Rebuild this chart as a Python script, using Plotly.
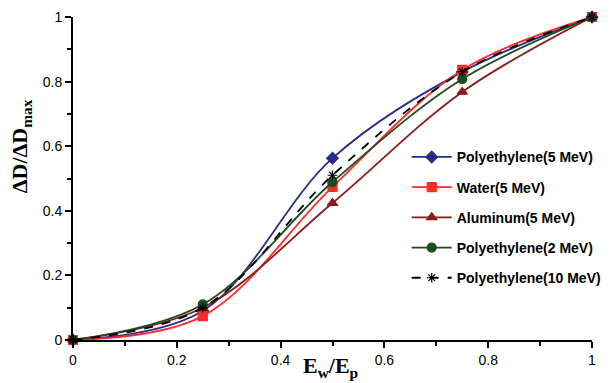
import plotly.graph_objects as go

x_vals = [0, 0.25, 0.5, 0.75, 1.0]
pe5 = [0, 0.09, 0.563, 0.83, 1.0]
water = [0, 0.074, 0.474, 0.836, 1.0]
alum = [0, 0.10, 0.424, 0.768, 1.0]
pe2 = [0, 0.11, 0.489, 0.808, 1.0]
pe10 = [0, 0.10, 0.51, 0.83, 1.0]

names = ["Polyethylene(5 MeV)", "Water(5 MeV)", "Aluminum(5 MeV)",
         "Polyethylene(2 MeV)", "Polyethylene(10 MeV)"]
series = [pe5, water, alum, pe2, pe10]
colors = ["#2a2a8c", "#ff2a2a", "#8b1a1a", "#1f4a1f", "#000000"]
symbols = ["diamond", "square", "triangle-up", "circle", "asterisk-open"]
dashes = ["solid", "solid", "solid", "solid", "dash"]

x_title = "E<sub>w</sub>/E<sub>p</sub>"
y_title = "ΔD/ΔD<sub>max</sub>"

fig = go.Figure()
for i, (nm, ys) in enumerate(zip(names, series)):
    fig.add_trace(go.Scatter(
        x=x_vals, y=ys, name=nm, mode="lines+markers",
        line=dict(color=colors[i], width=1.8, dash=dashes[i], shape="spline", smoothing=1.0),
        marker=dict(symbol=symbols[i], size=9 if i != 4 else 8, color=colors[i],
                    line=dict(color=colors[i], width=1.2)),
        legendgroup=f"g{i}", cliponaxis=False,
    ))

title_font_x = dict(family="Liberation Serif, Times New Roman", size=22, color="black", weight="bold")
title_font_y = dict(family="Liberation Serif, Times New Roman", size=22, color="black", weight="bold")

fig.update_layout(
    width=611, height=383,
    margin=dict(l=65, r=27, t=9, b=51),
    paper_bgcolor="white", plot_bgcolor="white",
    font=dict(family="Liberation Sans, Arial", color="black", size=14),
    legend=dict(x=0.643, y=0.615, xanchor="left", yanchor="top",
                bgcolor="rgba(0,0,0,0)", itemwidth=40, tracegroupgap=9,
                font=dict(family="Liberation Sans, Arial", size=14, color="black", weight="bold")),
    xaxis=dict(range=[0, 1], showgrid=False, zeroline=False, showline=True, automargin=False,
               linecolor="black", linewidth=2, ticks="outside", ticklen=6, tickwidth=2,
               tickcolor="black", tickvals=[0, 0.2, 0.4, 0.6, 0.8, 1],
               ticktext=["0", "0.2", "0.4", "0.6", "0.8", "1"],
               minor=dict(dtick=0.1, ticks="outside", ticklen=4, tickwidth=2, tickcolor="black"),
               tickfont=dict(size=14)),
    yaxis=dict(range=[0, 1], showgrid=False, zeroline=False, showline=True, automargin=False,
               linecolor="black", linewidth=2, ticks="outside", ticklen=6, tickwidth=2,
               tickcolor="black", tickvals=[0, 0.2, 0.4, 0.6, 0.8, 1],
               ticktext=["0", "0.2", "0.4", "0.6", "0.8", "1"],
               minor=dict(dtick=0.1, ticks="outside", ticklen=4, tickwidth=2, tickcolor="black"),
               tickfont=dict(size=14)),
    annotations=[
        dict(text=x_title, xref="paper", yref="paper", x=0.496, y=-0.085,
             xanchor="center", yanchor="middle", showarrow=False, font=title_font_x),
        dict(text=y_title, xref="paper", yref="paper", x=-0.1, y=0.6, textangle=-90,
             xanchor="center", yanchor="middle", showarrow=False, font=title_font_y),
    ],
)

fig.write_html("out.html")
